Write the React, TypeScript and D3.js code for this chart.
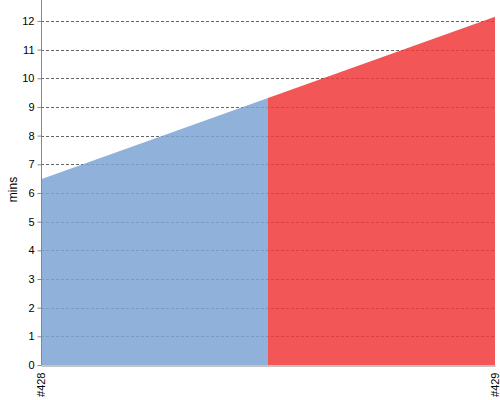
import React, { useEffect, useRef } from 'react';
import * as d3 from 'd3';

const builds = ['#428', '#429'];
const durations = [6.48, 12.15];
const buildColors = ['#7ba3d3', '#f13838'];
const yTicks = [0, 1, 2, 3, 4, 5, 6, 7, 8, 9, 10, 11, 12];

export default function App() {
  const svgRef = useRef<SVGSVGElement>(null);

  useEffect(() => {
    if (!svgRef.current) return;
    const svg = d3.select(svgRef.current);
    svg.selectAll('*').remove();

    const left = 41;
    const right = 495;
    const top = 0;
    const bottom = 365;

    const x = d3.scalePoint<string>().domain(builds).range([left, right]);
    const y = d3.scaleLinear().domain([0, 12.73]).range([bottom, top]);

    const data = builds.map((b, i) => ({ build: b, value: durations[i] }));

    // Grid lines (under the area)
    svg.append('g')
      .selectAll('line')
      .data(yTicks.filter(t => t > 0))
      .join('line')
      .attr('x1', left)
      .attr('x2', right)
      .attr('y1', d => Math.round(y(d)) + 0.5)
      .attr('y2', d => Math.round(y(d)) + 0.5)
      .attr('stroke', '#666')
      .attr('stroke-dasharray', '3,2');

    const area = d3.area<{ build: string; value: number }>()
      .x(d => x(d.build) as number)
      .y0(y(0))
      .y1(d => y(d.value));

    // each build owns the half of the area nearest to it
    const defs = svg.append('defs');
    builds.forEach((b, i) => {
      const cx = x(b) as number;
      const prev = i > 0 ? (x(builds[i - 1]) as number) : cx;
      const next = i < builds.length - 1 ? (x(builds[i + 1]) as number) : cx;
      const x0 = (prev + cx) / 2;
      const x1 = (cx + next) / 2;
      defs.append('clipPath')
        .attr('id', `clip-${i}`)
        .append('rect')
        .attr('x', x0)
        .attr('y', top)
        .attr('width', x1 - x0)
        .attr('height', bottom - top);
      svg.append('path')
        .datum(data)
        .attr('clip-path', `url(#clip-${i})`)
        .attr('fill', buildColors[i])
        .attr('fill-opacity', 0.85)
        .attr('d', area);
    });

    // Y axis
    const yAxis = svg.append('g')
      .attr('transform', `translate(${left + 0.5},0)`)
      .call(d3.axisLeft(y).tickValues(yTicks).tickSize(4).tickPadding(3).tickSizeOuter(0));
    yAxis.select('.domain').attr('stroke', '#888').attr('d', `M0,${top}V${bottom}`);
    yAxis.selectAll('.tick line').attr('stroke', '#888');
    yAxis.selectAll('.tick text')
      .attr('fill', '#000')
      .style('font-family', 'Liberation Sans, Arial, sans-serif')
      .style('font-size', '11px');

    // X axis
    const xAxis = svg.append('g')
      .attr('transform', `translate(0,${bottom + 0.5})`)
      .call(d3.axisBottom(x).tickSize(0).tickPadding(0));
    xAxis.select('.domain').attr('stroke', '#888');
    xAxis.selectAll('.tick text')
      .attr('transform', 'rotate(-90)')
      .attr('text-anchor', 'end')
      .attr('x', -7)
      .attr('y', 0)
      .attr('dy', '0.35em')
      .attr('fill', '#000')
      .style('font-family', 'Liberation Sans, Arial, sans-serif')
      .style('font-size', '11px');

    // Y label
    svg.append('text')
      .attr('transform', `translate(13,${(top + bottom) / 2 + 7}) rotate(-90)`)
      .attr('text-anchor', 'middle')
      .attr('dy', '0.35em')
      .style('font-family', 'Liberation Sans, Arial, sans-serif')
      .style('font-size', '12px')
      .text('mins');
  }, []);

  return (
    <svg
      ref={svgRef}
      width={500}
      height={400}
      style={{ position: 'absolute', left: 0, top: 0, background: '#fff' }}
    />
  );
}
